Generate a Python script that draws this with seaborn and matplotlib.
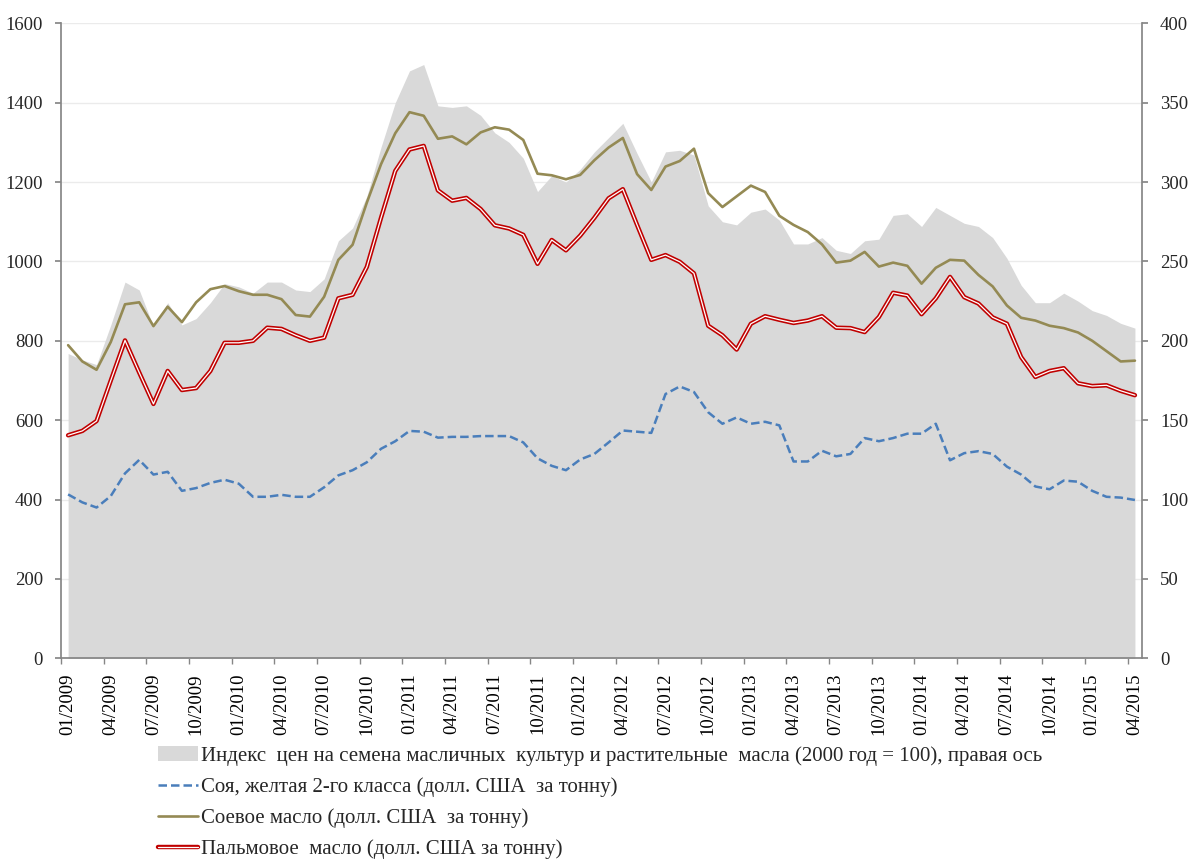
import matplotlib
matplotlib.use("Agg")
import matplotlib.pyplot as plt
from matplotlib.patches import Patch
import numpy as np
import pandas as pd
import seaborn as sns

# monthly data, 01/2009 .. 04/2015
months = pd.date_range("2009-01-01", periods=76, freq="MS").strftime("%m/%Y").tolist()

soy = [413, 393, 380, 409, 466, 500, 463, 470, 422, 429, 442, 450, 440, 407, 407, 412,
       407, 407, 431, 461, 474, 494, 528, 547, 573, 571, 556, 558, 558, 560, 560, 560,
       544, 504, 485, 474, 501, 515, 544, 574, 571, 568, 666, 685, 671, 620, 591, 607,
       591, 596, 587, 496, 496, 523, 509, 515, 555, 547, 555, 566, 566, 591, 499, 517,
       522, 515, 483, 463, 433, 426, 448, 445, 422, 407, 405, 399]

soy_oil = [789, 748, 727, 797, 892, 897, 837, 886, 847, 897, 930, 938, 925, 916, 916, 905,
           865, 861, 911, 1004, 1042, 1148, 1245, 1323, 1376, 1367, 1309, 1315, 1295, 1325, 1338, 1332,
           1306, 1221, 1217, 1207, 1218, 1255, 1287, 1311, 1220, 1180, 1239, 1253, 1284, 1172, 1137, 1164,
           1191, 1175, 1115, 1092, 1074, 1043, 997, 1002, 1024, 987, 997, 989, 944, 984, 1004, 1002,
           966, 937, 889, 858, 851, 838, 832, 821, 800, 774, 748, 750]

palm_oil = [562, 573, 598, 700, 801, 720, 641, 724, 676, 681, 724, 795, 795, 800, 833, 830,
            814, 800, 808, 907, 916, 986, 1110, 1228, 1282, 1291, 1179, 1153, 1160, 1132, 1091, 1083,
            1067, 994, 1054, 1028, 1065, 1110, 1159, 1182, 1092, 1004, 1016, 999, 970, 838, 814, 778,
            843, 862, 853, 845, 851, 862, 833, 832, 822, 860, 921, 914, 867, 907, 961, 910,
            894, 859, 843, 759, 709, 724, 731, 693, 686, 688, 674, 663]

price_index = [192, 188, 185, 210, 237, 232, 209, 224, 210, 214, 224, 236, 234, 230, 237, 237,
               232, 231, 239, 263, 271, 291, 322, 350, 370, 374, 348, 347, 348, 342, 331, 325,
               315, 294, 304, 300, 308, 319, 328, 337, 318, 300, 319, 320, 317, 285, 275, 273,
               281, 283, 276, 261, 261, 265, 257, 255, 263, 264, 279, 280, 272, 284, 279, 274,
               272, 265, 252, 235, 224, 224, 230, 225, 219, 216, 211, 208]

labels = [
    "Индекс  цен на семена масличных  культур и растительные  масла (2000 год = 100), правая ось",
    "Соя, желтая 2-го класса (долл. США  за тонну)",
    "Соевое масло (долл. США  за тонну)",
    "Пальмовое  масло (долл. США за тонну)",
]

sns.set_theme(style="white")
plt.rcParams["font.family"] = ["Liberation Serif", "DejaVu Serif"]

AREA = "#d9d9d9"
BLUE = "#4a7ebb"
OLIVE = "#948a54"
RED = "#c00000"
AXIS = "#868686"

x = np.arange(len(months))

fig = plt.figure(figsize=(11.89, 8.65), dpi=100)
ax = fig.add_axes([0.0513, 0.2389, 0.9092, 0.7342])

# base axes: index area on the right-hand scale, with the grid behind it
ax.fill_between(x, price_index, color=AREA, linewidth=0, zorder=1)
ax.set_ylim(0, 400)
ax.set_yticks(np.arange(0, 401, 50))
ax.set_axisbelow(True)
ax.grid(axis="y", color="#ebebeb", linewidth=1)
ax.grid(axis="x", visible=False)

# twin axes: price lines on the left-hand scale
ax2 = ax.twinx()
ax.yaxis.tick_right()
ax2.yaxis.tick_left()
ax2.grid(False)

sns.lineplot(x=x, y=soy, ax=ax2, color=BLUE, linewidth=1.8, linestyle=(0, (3.4, 1.6)))
l_soy = ax2.lines[-1]
sns.lineplot(x=x, y=soy_oil, ax=ax2, color=OLIVE, linewidth=1.9)
l_oil = ax2.lines[-1]
sns.lineplot(x=x, y=palm_oil, ax=ax2, color=RED, linewidth=3.2)
l_palm = ax2.lines[-1]
sns.lineplot(x=x, y=palm_oil, ax=ax2, color="white", linewidth=0.9)
l_palm_in = ax2.lines[-1]
ax2.set_ylim(0, 1600)
ax2.set_yticks(np.arange(0, 1601, 200))
ax2.set_ylabel("")
ax.set_ylabel("")

ax.set_xlim(-0.5, 75.5)
ax.set_xticks(x[::3])
ax.set_xticklabels(months[::3], rotation=90)
ax.set_xticks(np.arange(-0.5, 76, 3), minor=True)
ax.set_xlabel("")

for s in ax.spines.values():
    s.set_color(AXIS)
ax.spines["top"].set_visible(False)
for s in ax2.spines.values():
    s.set_visible(False)

ax.tick_params(axis="x", which="major", length=0, pad=11, labelsize=13.5, labelcolor="black")
ax.tick_params(axis="x", which="minor", bottom=True, direction="out", length=4, color=AXIS)
ax.tick_params(axis="y", direction="out", length=4, color=AXIS, pad=9, labelsize=13.5,
               right=True, left=False)
ax2.tick_params(axis="y", direction="out", length=4, color=AXIS, pad=9, labelsize=13.5,
                left=True, right=False)

handles = [Patch(facecolor=AREA, edgecolor="none"), l_soy, l_oil, (l_palm, l_palm_in)]
fig.legend(handles, labels, loc="upper left", bbox_to_anchor=(158 / 1189, 1 - 746 / 865),
           frameon=False, fontsize=15, handlelength=1.9, handletextpad=0.15,
           labelspacing=0.55, borderaxespad=0, borderpad=0)

fig.savefig("out.png", dpi=100)
